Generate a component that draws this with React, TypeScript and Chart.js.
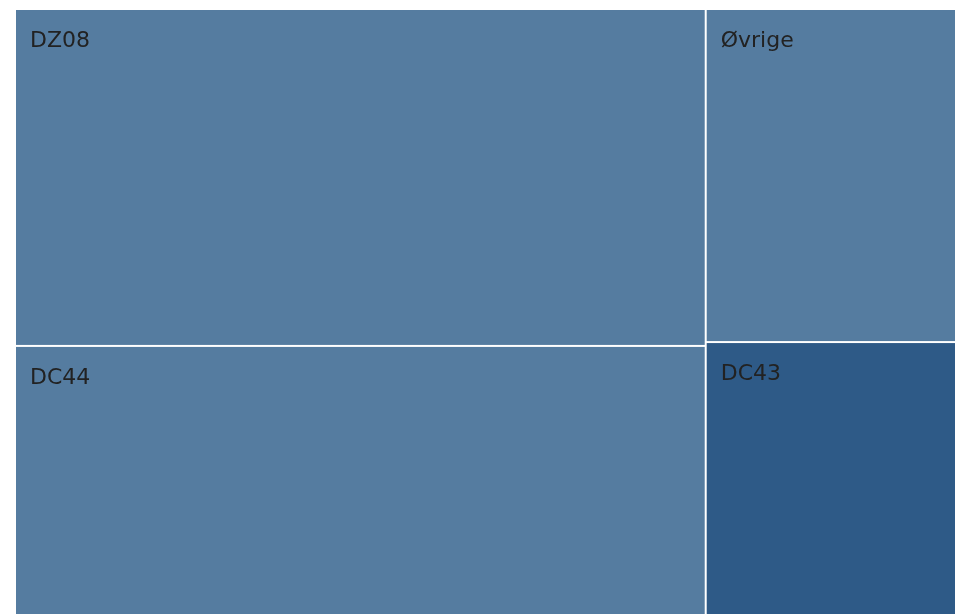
import React, { useEffect, useRef } from "react";
import { Chart, registerables } from "chart.js";

Chart.register(...registerables);

const columnA = ["DZ08", "DC44"];
const columnAValues = [407, 326];
const columnB = ["Øvrige", "DC43"];
const columnBValues = [146, 120];
const highlighted = ["DC43"];

const baseColor = "#557ca0";
const highlightColor = "#2e5a87";

type Cell = { label: string; x0: number; x1: number; y0: number; y1: number };

function layout(): Cell[] {
  const cols = [
    { labels: columnA, values: columnAValues },
    { labels: columnB, values: columnBValues },
  ];
  const total = cols.reduce((s, c) => s + c.values.reduce((a, b) => a + b, 0), 0);
  const cells: Cell[] = [];
  let x = 0;
  cols.forEach((c) => {
    const sum = c.values.reduce((a, b) => a + b, 0);
    const w = sum / total;
    let y = 0;
    c.values.forEach((v, i) => {
      const h = v / sum;
      cells.push({ label: c.labels[i], x0: x, x1: x + w, y0: y, y1: y + h });
      y += h;
    });
    x += w;
  });
  return cells;
}

const treemapPlugin = {
  id: "treemapRects",
  afterDatasetsDraw(chart: any) {
    const ctx = chart.ctx;
    const xs = chart.scales.x;
    const ys = chart.scales.y;
    const cells: Cell[] = chart.data.datasets[0].cells;
    ctx.save();
    cells.forEach((c) => {
      const left = xs.getPixelForValue(c.x0) + (c.x0 > 0.0001 ? 1 : 0);
      const right = xs.getPixelForValue(c.x1) - (c.x1 < 0.9999 ? 1 : 0);
      const top = ys.getPixelForValue(c.y0) + (c.y0 > 0.0001 ? 1 : 0);
      const bottom = ys.getPixelForValue(c.y1) - (c.y1 < 0.9999 ? 1 : 0);
      ctx.fillStyle = highlighted.includes(c.label) ? highlightColor : baseColor;
      ctx.fillRect(left, top, right - left, bottom - top);
      ctx.fillStyle = "#222222";
      ctx.font = '22px "DejaVu Sans"';
      ctx.textBaseline = "alphabetic";
      ctx.textAlign = "left";
      ctx.fillText(c.label, left + 14, top + 37);
    });
    ctx.restore();
  },
};

export default function App() {
  const ref = useRef<HTMLCanvasElement | null>(null);
  useEffect(() => {
    if (!ref.current) return;
    const cells = layout();
    const chart = new Chart(ref.current, {
      type: "scatter",
      data: {
        datasets: [
          {
            label: "treemap",
            data: cells.map((c) => ({ x: (c.x0 + c.x1) / 2, y: (c.y0 + c.y1) / 2 })),
            pointRadius: 0,
            // @ts-ignore
            cells,
          } as any,
        ],
      },
      options: {
        animation: false,
        responsive: false,
        layout: { padding: { left: 8, top: 2, right: 0, bottom: 0 } },
        plugins: { legend: { display: false }, tooltip: { enabled: false } },
        scales: {
          x: { type: "linear", min: 0, max: 1, display: false },
          y: { type: "linear", min: 0, max: 1, reverse: true, display: false },
        },
      },
      plugins: [treemapPlugin],
    });
    return () => chart.destroy();
  }, []);
  return (
    <div
      style={{
        position: "fixed",
        left: 8,
        top: 8,
        width: 947,
        height: 606,
        overflow: "hidden",
      }}
    >
      <canvas ref={ref} width={948} height={607} style={{ display: "block" }} />
    </div>
  );
}
